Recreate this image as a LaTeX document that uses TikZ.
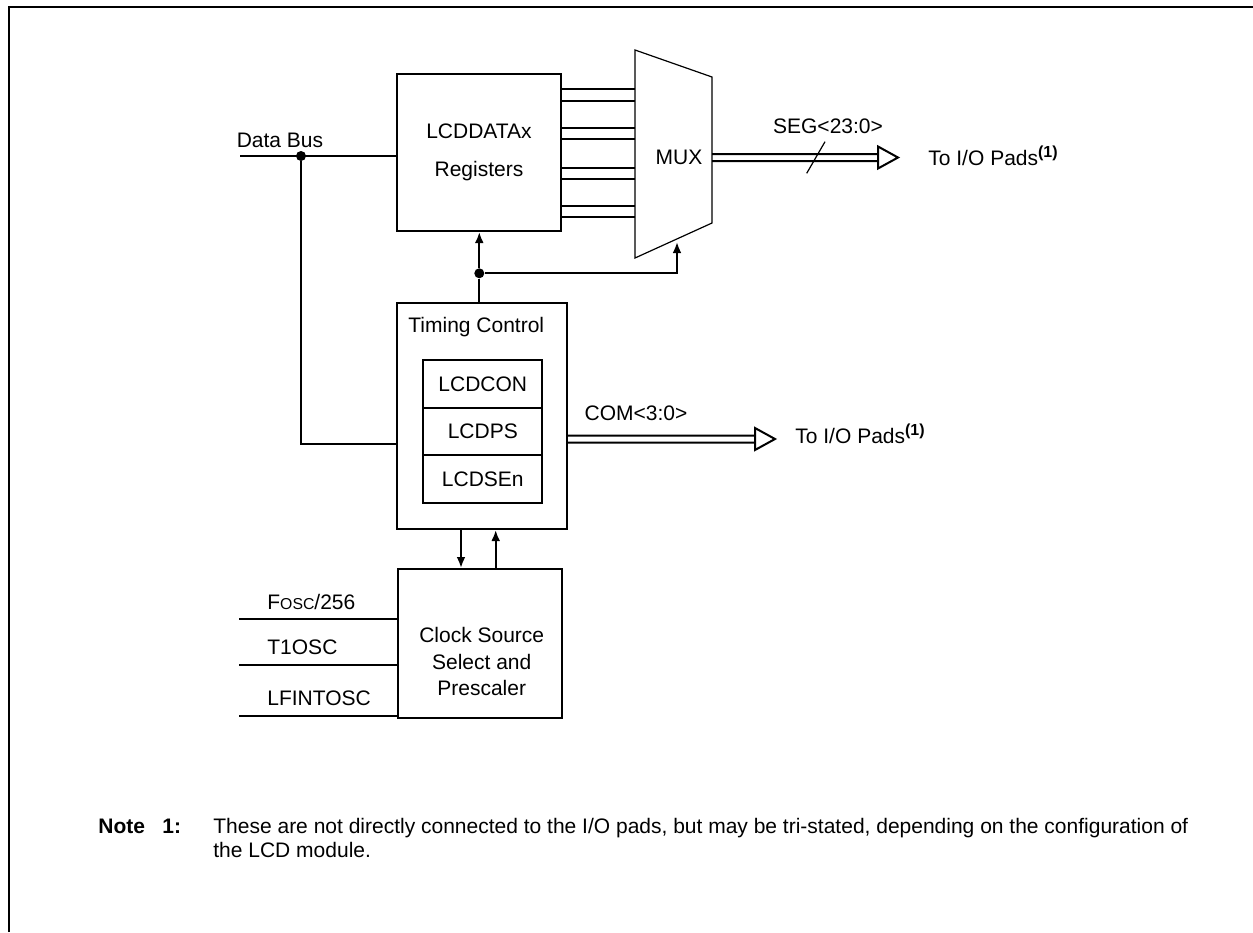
\documentclass[tikz,border=0pt]{standalone}
\usepackage{fontspec}
\setmainfont{Liberation Sans}
\usetikzlibrary{arrows.meta,calc,positioning}

% hollow double bus arrow from #1 to tip #2
\newcommand{\busarrow}[2]{%
  \draw[wire] ($(#1)+(0,-3.5)$) -- ($(#2)+(-20,-3.5)$)
    ($(#1)+(0,3.5)$) -- ($(#2)+(-20,3.5)$)
    ($(#2)+(-20,-11)$) -- (#2) -- ($(#2)+(-20,11)$) -- cycle;}

\begin{document}
\begin{tikzpicture}[x=0.5pt,y=-0.5pt,>={Latex[length=5.5pt,width=4.4pt]},
  font=\fontsize{10.5}{12.5}\selectfont,
  wire/.style={line width=1pt},
  blk/.style={draw,line width=1pt,inner sep=0pt},
  cell/.style={blk,minimum width=59.5pt,minimum height=23.8pt,text height=7.4pt,text depth=0pt},
  lbl/.style={inner sep=0pt,text height=7.4pt,text depth=0pt},
  dot/.style={circle,fill,inner sep=0pt,minimum size=5pt}]
  \useasboundingbox (0,0) rectangle (1253,932);

  % Frame
  \draw[line width=1.1pt] (9,932) -- (9,7) -- (1253,7);

  % Registers
  \node[blk,minimum width=82pt,minimum height=78.5pt,align=center,
    font=\fontsize{10.5}{19}\selectfont] (regs) at (479,152.5) {LCDDATAx\\Registers};

  % MUX
  \coordinate (muxL) at (635,0);
  \coordinate (muxR) at (712,157.5);
  \draw[line width=0.6pt] (635,50) -- (712,77) -- (712,223) -- (635,258) -- cycle;
  \node[lbl] (mux) at (679,157) {MUX};
  \foreach \y in {89,101,128,139,168,179,206,217}
    \draw[wire] (regs.east |- 0,\y) -- (muxL |- 0,\y);

  % Timing control
  \node[blk,minimum width=85pt,minimum height=113pt] (tc) at (482,416) {};
  \node[lbl,anchor=west] (tctitle) at (408,325) {Timing Control};
  \node[cell] (con) at (482.8,383.9) {LCDCON};
  \node[cell,below=-1pt of con] (ps) {LCDPS};
  \node[cell,below=-1pt of ps] (sen) {LCDSEn};

  % Junction to registers and MUX
  \node[dot] (jn) at (479.3,273.3) {};
  \coordinate (muxin) at (677,242);
  \draw[wire] (jn |- tc.north) -- (jn);
  \draw[wire,->] (jn) -- (regs.south -| jn);
  \draw[wire,->] (jn) -| (muxin);

  % Data bus
  \node[lbl] (dblbl) at (280,140) {Data Bus};
  \coordinate (dbin) at (240,156);
  \node[dot] (db) at (301,156) {};
  \draw[wire] (dbin) -- (regs.west |- dbin);
  \draw[wire] (db) |- (tc.west |- 0,444);

  % SEG bus
  \coordinate (segtip) at (898,157.5);
  \busarrow{muxR}{segtip}
  \draw[line width=0.6pt] (806.7,173.3) -- (825,141.7);
  \node[lbl] (seglbl) at (828,126) {SEG<23:0>};
  \node[lbl,anchor=west] (segpad) at (928,158) {To I/O Pads\textsuperscript{\textbf{\fontsize{8}{9}\selectfont(1)}}};

  % COM bus
  \coordinate (comtip) at (775,439);
  \coordinate (comsrc) at (tc.east |- comtip);
  \busarrow{comsrc}{comtip}
  \node[lbl] (comlbl) at (636,413) {COM<3:0>};
  \node[lbl,anchor=west] (compad) at (795,436) {To I/O Pads\textsuperscript{\textbf{\fontsize{8}{9}\selectfont(1)}}};

  % Clock source
  \node[blk,minimum width=82pt,minimum height=74.5pt] (clk) at (480,643.5) {};
  \node[inner sep=0pt,align=center,font=\fontsize{10.5}{13.2}\selectfont] (clktxt)
    at (481.7,661.5) {Clock Source\\Select and\\Prescaler};
  \draw[wire,->] (tc.south -| 461,0) -- (clk.north -| 461,0);
  \draw[wire,->] (clk.north -| 495.7,0) -- (tc.south -| 495.7,0);

  % Clock inputs
  \coordinate (in1) at (239,619);
  \coordinate (in2) at (239,665);
  \coordinate (in3) at (239,715.7);
  \draw[wire] (in1) -- (clk.west |- in1);
  \draw[wire] (in2) -- (clk.west |- in2);
  \draw[wire] (in3) -- (clk.west |- in3);
  \node[lbl,anchor=west] (fosc) at (267,602) {F{\fontsize{7.9}{9}\selectfont OSC}/256};
  \node[lbl,anchor=west] (t1osc) at (267,646.7) {T1OSC};
  \node[lbl,anchor=west] (lfint) at (267,698) {LFINTOSC};

  % Note
  \node[lbl,anchor=west] (note) at (98,826) {\textbf{Note}};
  \node[lbl,anchor=west] (notenum) at (162,826) {\textbf{1:}};
  \node[lbl,anchor=west] (notel1) at (213,826) {These are not directly connected to the I/O pads, but may be tri-stated, depending on the configuration of};
  \node[lbl,anchor=west] (notel2) at (213,850) {the LCD module.};
\end{tikzpicture}
\end{document}
